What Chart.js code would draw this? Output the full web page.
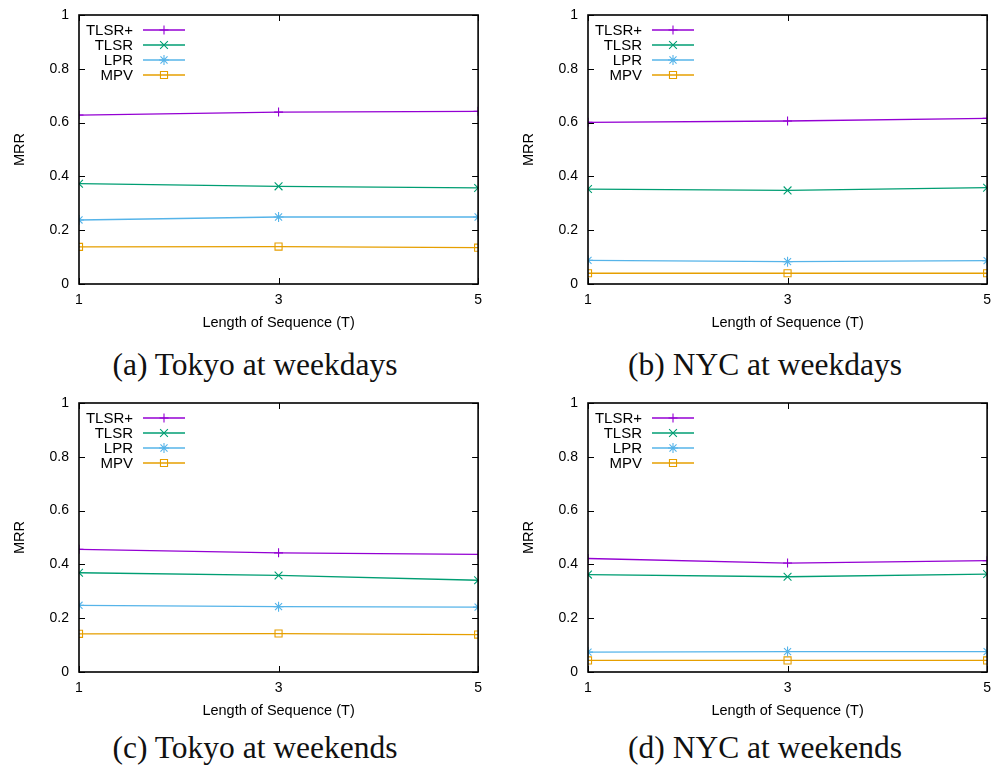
<!DOCTYPE html>
<html>
<head>
<meta charset="utf-8">
<script src="https://cdn.jsdelivr.net/npm/chart.js@4.4.1/dist/chart.umd.min.js"></script>
<style>
  html, body { margin: 0; padding: 0; background: #fff; overflow: hidden; }
  body { width: 995px; height: 772px; position: relative; overflow: hidden; }
  .panel { position: absolute; width: 490px; height: 334px; }
  .caption {
    position: absolute; width: 510px; text-align: center;
    font-family: "Liberation Serif", "Times New Roman", serif;
    font-size: 31.5px; line-height: 31px; color: #111;
  }
</style>
</head>
<body>
<div class="panel" style="left:0px;top:0px"><canvas id="chartA" width="490" height="334"></canvas></div>
<div class="panel" style="left:509px;top:0px"><canvas id="chartB" width="490" height="334"></canvas></div>
<div class="panel" style="left:0px;top:388px"><canvas id="chartC" width="490" height="334"></canvas></div>
<div class="panel" style="left:509px;top:388px"><canvas id="chartD" width="490" height="334"></canvas></div>
<div class="caption" style="left:0px;top:349px">(a) Tokyo at weekdays</div>
<div class="caption" style="left:510px;top:349px">(b) NYC at weekdays</div>
<div class="caption" style="left:0px;top:732px">(c) Tokyo at weekends</div>
<div class="caption" style="left:510px;top:732px">(d) NYC at weekends</div>

<script>
// sequence lengths (x axis)
const seqLengths = [1, 3, 5];
const yTicks = [0, 0.2, 0.4, 0.6, 0.8, 1];
const methodNames = ['TLSR+', 'TLSR', 'LPR', 'MPV'];

// (a) Tokyo at weekdays
const tokyoWeekdaysTlsrPlus = [0.628, 0.639, 0.642];
const tokyoWeekdaysTlsr     = [0.373, 0.363, 0.357];
const tokyoWeekdaysLpr      = [0.238, 0.249, 0.249];
const tokyoWeekdaysMpv      = [0.138, 0.139, 0.135];

// (b) NYC at weekdays
const nycWeekdaysTlsrPlus = [0.601, 0.606, 0.616];
const nycWeekdaysTlsr     = [0.353, 0.348, 0.358];
const nycWeekdaysLpr      = [0.088, 0.083, 0.087];
const nycWeekdaysMpv      = [0.040, 0.040, 0.040];

// (c) Tokyo at weekends
const tokyoWeekendsTlsrPlus = [0.456, 0.443, 0.437];
const tokyoWeekendsTlsr     = [0.369, 0.359, 0.341];
const tokyoWeekendsLpr      = [0.248, 0.243, 0.241];
const tokyoWeekendsMpv      = [0.142, 0.143, 0.139];

// (d) NYC at weekends
const nycWeekendsTlsrPlus = [0.422, 0.405, 0.414];
const nycWeekendsTlsr     = [0.362, 0.354, 0.364];
const nycWeekendsLpr      = [0.074, 0.076, 0.076];
const nycWeekendsMpv      = [0.043, 0.043, 0.043];

// gnuplot default palette + point types
const lineColors = ['#9400d3', '#009e73', '#56b4e9', '#e69f00'];
const pointStyles = ['cross', 'crossRot', 'star', 'rect'];
const pointSizes = [4.5, 5.5, 5, 5];

const SANS = '"Liberation Sans", Arial, sans-serif';

function makeDatasets(series) {
  return series.map((values, i) => ({
    label: methodNames[i],
    data: values.map((v, j) => ({ x: seqLengths[j], y: v })),
    borderColor: lineColors[i],
    backgroundColor: 'rgba(0,0,0,0)',
    borderWidth: 1.3,
    pointStyle: pointStyles[i],
    pointRadius: pointSizes[i],
    pointBorderWidth: 1.1,
    pointBorderColor: lineColors[i],
    pointBackgroundColor: 'rgba(0,0,0,0)',
    tension: 0
  }));
}

// frame with inward ticks on all four sides, like gnuplot's border
const gnuFrame = {
  id: 'gnuFrame',
  afterDraw(chart) {
    const { ctx, chartArea: a } = chart;
    const xs = chart.scales.x, ys = chart.scales.y;
    const tl = 6;
    ctx.save();
    ctx.strokeStyle = '#000';
    ctx.lineWidth = 1;
    ctx.beginPath();
    xs.ticks.forEach(t => {
      const px = Math.round(xs.getPixelForValue(t.value)) + 0.5;
      ctx.moveTo(px, a.bottom); ctx.lineTo(px, a.bottom - tl);
      ctx.moveTo(px, a.top); ctx.lineTo(px, a.top + tl);
    });
    ys.ticks.forEach(t => {
      const py = Math.round(ys.getPixelForValue(t.value)) + 0.5;
      ctx.moveTo(a.left, py); ctx.lineTo(a.left + tl, py);
      ctx.moveTo(a.right, py); ctx.lineTo(a.right - tl, py);
    });
    ctx.stroke();
    ctx.lineWidth = 1.6;
    ctx.strokeRect(a.left, a.top, a.right - a.left, a.bottom - a.top);
    ctx.restore();
  }
};

// key in the top-left corner: label right-aligned, then line sample with marker
const gnuKey = {
  id: 'gnuKey',
  afterDatasetsDraw(chart) {
    const { ctx, chartArea: a } = chart;
    ctx.save();
    ctx.font = '15px ' + SANS;
    ctx.textAlign = 'right';
    ctx.textBaseline = 'middle';
    chart.data.datasets.forEach((ds, i) => {
      const y = a.top + 15 + i * 15;
      ctx.fillStyle = '#000';
      ctx.fillText(ds.label, a.left + 54, y + 1);
      ctx.strokeStyle = ds.borderColor;
      ctx.fillStyle = 'rgba(0,0,0,0)';
      ctx.lineWidth = 1.3;
      ctx.beginPath();
      ctx.moveTo(a.left + 64, y);
      ctx.lineTo(a.left + 106, y);
      ctx.stroke();
      ctx.lineWidth = 1.1;
      Chart.helpers.drawPoint(ctx, {
        pointStyle: ds.pointStyle, radius: ds.pointRadius, rotation: 0, borderWidth: 1.1
      }, a.left + 85, y);
    });
    ctx.restore();
  }
};

function drawPanel(canvasId, series) {
  const ctx = document.getElementById(canvasId);
  const config = {
    type: 'line',
    data: { datasets: makeDatasets(series) },
    plugins: [gnuFrame, gnuKey],
    options: {
      responsive: false,
      animation: false,
      layout: { padding: { left: 0, right: 0, top: 15, bottom: 0 } },
      plugins: { legend: { display: false }, tooltip: { enabled: false } },
      scales: {
        x: {
          type: 'linear',
          min: 1, max: 5,
          afterBuildTicks: s => { s.ticks = seqLengths.map(v => ({ value: v })); },
          afterFit: s => { s.height = 50; },
          grid: { display: false, drawTicks: false },
          border: { display: false },
          ticks: { color: '#000', padding: 8, font: { family: SANS, size: 14 }, callback: v => String(v) },
          title: {
            display: true, text: 'Length of Sequence (T)', color: '#000',
            font: { family: SANS, size: 14.5 }, padding: { top: 0, bottom: 2 }
          }
        },
        y: {
          min: 0, max: 1,
          afterBuildTicks: s => { s.ticks = yTicks.map(v => ({ value: v })); },
          afterFit: s => { s.width = 79; s.paddingTop = 0; s.paddingBottom = 0; },
          grid: { display: false, drawTicks: false },
          border: { display: false },
          ticks: { color: '#000', padding: 10, font: { family: SANS, size: 14 }, callback: v => String(v) },
          title: {
            display: true, text: 'MRR', color: '#000',
            font: { family: SANS, size: 14.5 }, padding: { top: 11, bottom: 0 }
          }
        }
      }
    }
  };
  new Chart(ctx, config);
}

drawPanel('chartA', [tokyoWeekdaysTlsrPlus, tokyoWeekdaysTlsr, tokyoWeekdaysLpr, tokyoWeekdaysMpv]);
drawPanel('chartB', [nycWeekdaysTlsrPlus, nycWeekdaysTlsr, nycWeekdaysLpr, nycWeekdaysMpv]);
drawPanel('chartC', [tokyoWeekendsTlsrPlus, tokyoWeekendsTlsr, tokyoWeekendsLpr, tokyoWeekendsMpv]);
drawPanel('chartD', [nycWeekendsTlsrPlus, nycWeekendsTlsr, nycWeekendsLpr, nycWeekendsMpv]);
</script>
</body>
</html>
